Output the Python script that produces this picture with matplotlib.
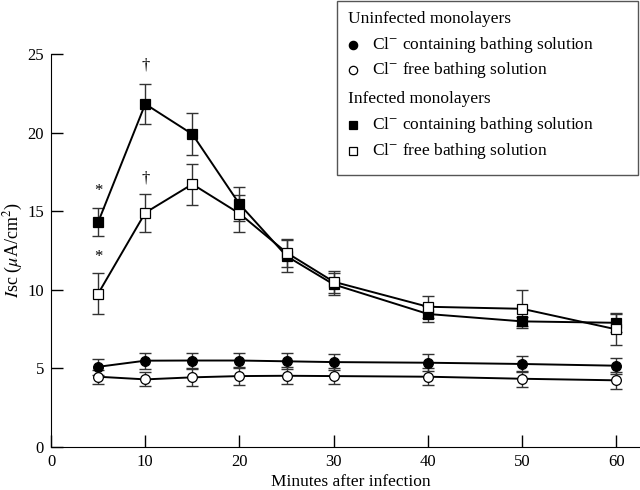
import numpy as np
import matplotlib.pyplot as plt
from matplotlib.lines import Line2D
from matplotlib.patches import Rectangle

plt.rcParams['font.family'] = ['Liberation Serif', 'DejaVu Serif']
plt.rcParams['mathtext.fontset'] = 'stix'

# data
minutes = [5, 10, 15, 20, 25, 30, 40, 50, 60]

uninf_cl = [5.1, 5.49, 5.5, 5.5, 5.45, 5.4, 5.36, 5.28, 5.17]
uninf_cl_err = [0.5, 0.5, 0.5, 0.5, 0.5, 0.5, 0.55, 0.5, 0.5]
uninf_free = [4.47, 4.3, 4.43, 4.51, 4.53, 4.51, 4.47, 4.34, 4.24]
uninf_free_err = [0.45, 0.45, 0.55, 0.55, 0.55, 0.5, 0.55, 0.5, 0.55]

inf_cl = [14.3, 21.82, 19.9, 15.45, 12.14, 10.34, 8.46, 7.99, 7.9]
inf_cl_err = [0.9, 1.3, 1.35, 1.1, 1.0, 0.7, 0.5, 0.3, 0.6]
inf_free = [9.75, 14.9, 16.72, 14.85, 12.36, 10.51, 8.92, 8.79, 7.48]
inf_free_err = [1.3, 1.2, 1.3, 1.2, 0.9, 0.7, 0.7, 1.2, 1.0]

# significance marks
marks = [(5, 16.3, '*'), (10, 24.3, '\u2020'), (5, 12.1, '*'), (10, 17.1, '\u2020')]

fig = plt.figure(figsize=(6.4, 4.9), dpi=100)
ax = fig.add_axes([0.0797, 0.0878, 0.9203, 0.802])

series = [
    (uninf_cl, uninf_cl_err, 'o', 'black'),
    (uninf_free, uninf_free_err, 'o', 'white'),
    (inf_cl, inf_cl_err, 's', 'black'),
    (inf_free, inf_free_err, 's', 'white'),
]
for vals, errs, m, fc in series:
    ax.errorbar(minutes, vals, yerr=errs, fmt='none', ecolor='#333333',
                elinewidth=1, capsize=4, capthick=1, zorder=2)
    ax.plot(minutes, vals, color='black', lw=1.4, marker=m, markersize=7,
            markerfacecolor=fc, markeredgecolor='black', markeredgewidth=0.9, zorder=3)

for x, y, s in marks:
    ax.text(x, y, s, ha='center', va='center', fontsize=12)

ax.set_xlim(0, 62.5)
ax.set_ylim(0, 25)
ax.set_xticks([0, 10, 20, 30, 40, 50, 60])
ax.set_yticks([0, 5, 10, 15, 20, 25])
ax.tick_params(direction='in', length=8.5, width=1, labelsize=12, pad=5)
ax.spines['top'].set_visible(False)
ax.spines['right'].set_visible(False)
ax.set_xlabel('Minutes after infection', fontsize=12.5)
ax.xaxis.set_label_coords(0.509, -0.068)
ax.set_ylabel(r'$I$sc ($\mu$A/cm$^2$)', fontsize=13, va='center')
ax.yaxis.set_label_coords(-0.064, 0.5)

# legend box
fig.add_artist(Rectangle((336.5 / 640, 1 - 175 / 490), (638 - 336.5) / 640, 174 / 490,
                         transform=fig.transFigure, fill=False, edgecolor='#555555', lw=1))
rows = [
    (19, None, None, 'Uninfected monolayers'),
    (45, 'o', 'black', 'Cl$^{-}$ containing bathing solution'),
    (70, 'o', 'white', 'Cl$^{-}$ free bathing solution'),
    (99, None, None, 'Infected monolayers'),
    (125, 's', 'black', 'Cl$^{-}$ containing bathing solution'),
    (151, 's', 'white', 'Cl$^{-}$ free bathing solution'),
]
for ypx, m, fc, label in rows:
    yf = 1 - ypx / 490
    if m is None:
        fig.text(348 / 640, yf, label, ha='left', va='center', fontsize=12.5)
    else:
        fig.add_artist(Line2D([352.5 / 640], [yf], transform=fig.transFigure, marker=m,
                              markersize=6, markerfacecolor=fc, markeredgecolor='black',
                              markeredgewidth=0.9, linestyle='none'))
        fig.text(371.5 / 640, yf, label, ha='left', va='center', fontsize=12.5)

fig.savefig('out.png', dpi=100)
